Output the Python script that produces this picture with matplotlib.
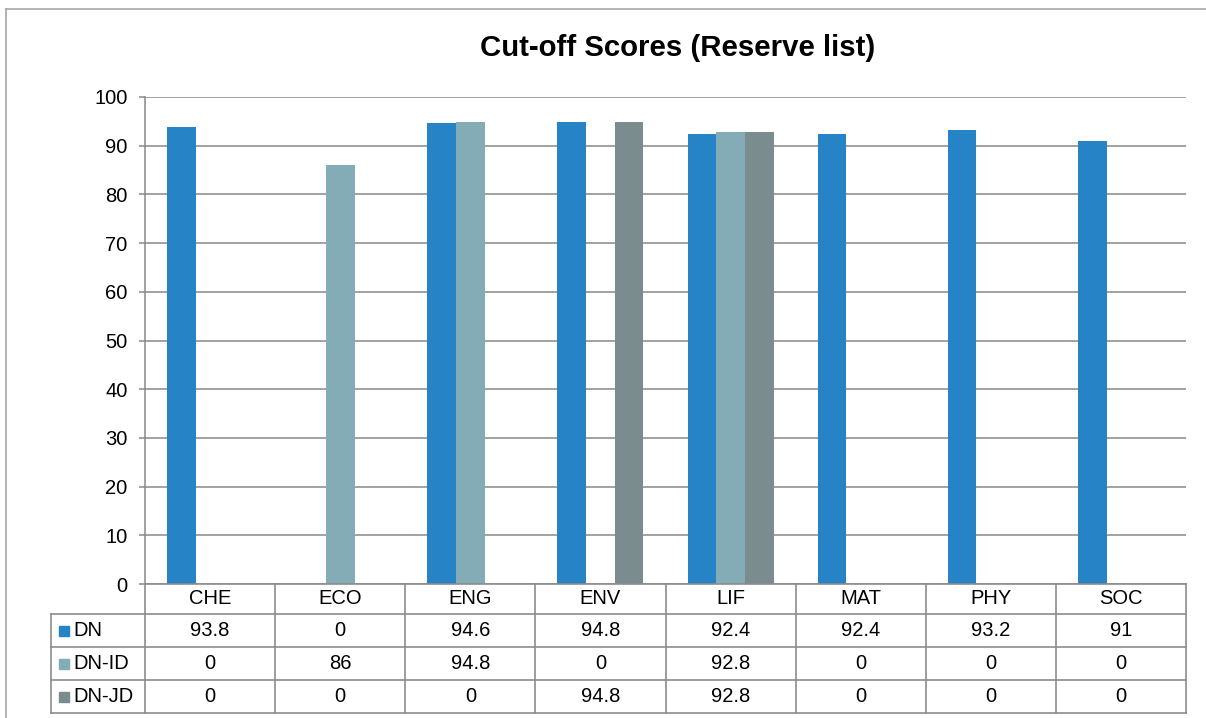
import matplotlib
matplotlib.use("Agg")
import matplotlib.pyplot as plt
import numpy as np

plt.rcParams['font.family'] = ['Liberation Sans', 'DejaVu Sans']

categories = ["CHE", "ECO", "ENG", "ENV", "LIF", "MAT", "PHY", "SOC"]
series_names = ["DN", "DN-ID", "DN-JD"]
dn = [93.8, 0, 94.6, 94.8, 92.4, 92.4, 93.2, 91]
dn_id = [0, 86, 94.8, 0, 92.8, 0, 0, 0]
dn_jd = [0, 0, 0, 94.8, 92.8, 0, 0, 0]
series_values = [dn, dn_id, dn_jd]
colors = ["#2683C6", "#84ACB6", "#7A8C8E"]
yticks = [0, 10, 20, 30, 40, 50, 60, 70, 80, 90, 100]
title = "Cut-off Scores (Reserve list)"

W, H = 1206, 718
fig = plt.figure(figsize=(W / 100, H / 100), dpi=100)

def fx(px):
    return px / W

def fy(py):
    return 1 - py / H

# outer chart frame (right and bottom edges fall outside the picture)
fig.add_artist(plt.Line2D([fx(6), fx(6)], [fy(9), fy(800)], transform=fig.transFigure,
                          color="#A6A6A6", linewidth=1.2, zorder=0))
fig.add_artist(plt.Line2D([fx(6), fx(1400)], [fy(9), fy(9)], transform=fig.transFigure,
                          color="#A6A6A6", linewidth=1.2, zorder=0))

# plot area
pl, pr, pt, pb = 145, 1186, 97, 584
ax = fig.add_axes([fx(pl), fy(pb), fx(pr) - fx(pl), fy(pt) - fy(pb)])
n = len(categories)
x = np.arange(n)
bw = 0.2205
for i, (vals, c) in enumerate(zip(series_values, colors)):
    ax.bar(x + (i - 1) * bw, vals, width=bw, color=c, zorder=3, linewidth=0)
ax.set_xlim(-0.5, n - 0.5)
ax.set_ylim(0, 100)
ax.set_yticks(yticks)
ax.set_yticklabels([str(v) for v in yticks], fontsize=14.5)
ax.set_xticks([])
ax.yaxis.grid(True, color="#878787", linewidth=1.1, zorder=0)
ax.set_axisbelow(True)
for s in ["top", "right", "bottom"]:
    ax.spines[s].set_visible(False)
ax.spines["left"].set_color("#878787")
ax.spines["left"].set_linewidth(1.1)
ax.tick_params(axis="y", direction="out", length=4.5, width=1.1, color="#878787", pad=8)

fig.text(fx(678), fy(48), title, ha="center", va="center", fontsize=21.2, fontweight="bold")

# data table
tl, tr, tt, tb = 51, 1186, 584, 713
row_lines = [584, 614, 647, 680, 713]
cat_px = (pr - pl) / n
tab = fig.add_axes([fx(tl), fy(tb), fx(tr) - fx(tl), fy(tt) - fy(tb)])
xmin = -0.5 - (pl - tl) / cat_px
tab.set_xlim(xmin, n - 0.5)
tab.set_ylim(tb, tt)
tab.axis("off")
lc = "#8C8C8C"
lw = 1.2
kw = dict(color=lc, linewidth=lw, clip_on=False, solid_capstyle="projecting")
tab.plot([-0.5, n - 0.5], [row_lines[0]] * 2, **kw)
for yv in row_lines[1:]:
    tab.plot([xmin, n - 0.5], [yv] * 2, **kw)
for k in range(n + 1):
    tab.plot([k - 0.5] * 2, [row_lines[0], row_lines[-1]], **kw)
tab.plot([xmin] * 2, [row_lines[1], row_lines[-1]], **kw)

hdr_y = (row_lines[0] + row_lines[1]) / 2
for k, cat in enumerate(categories):
    tab.text(k, hdr_y, cat, ha="center", va="center", fontsize=14.5)
for r, (name, vals, c) in enumerate(zip(series_names, series_values, colors)):
    yc = (row_lines[r + 1] + row_lines[r + 2]) / 2
    tab.plot([xmin + (63.5 - tl) / cat_px], [yc], marker="s", markersize=7.8,
             color=c, linestyle="none", clip_on=False)
    tab.text(xmin + (73 - tl) / cat_px, yc, name, ha="left", va="center", fontsize=14.5)
    for k, v in enumerate(vals):
        tab.text(k, yc, f"{v:g}", ha="center", va="center", fontsize=14.5)

fig.savefig("out.png", dpi=100)
